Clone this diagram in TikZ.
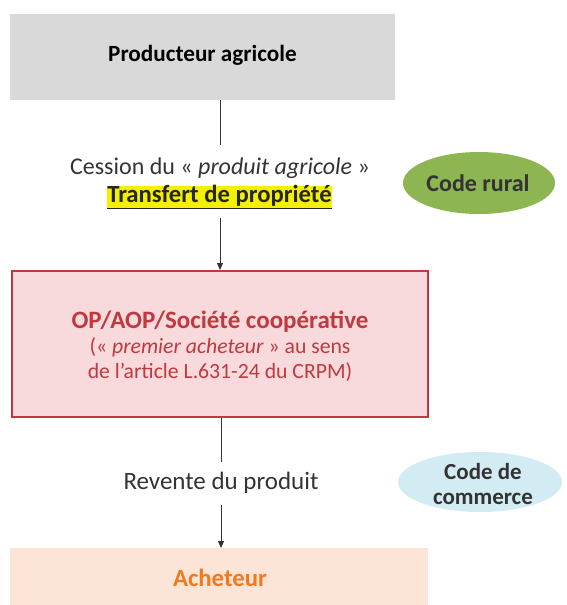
\documentclass[tikz,border=0pt]{standalone}
\usepackage{fontspec}
\setmainfont{Carlito}
\usetikzlibrary{arrows.meta}
\definecolor{greybox}{HTML}{D9D9D9}
\definecolor{pinkfill}{HTML}{F8DADC}
\definecolor{redline}{HTML}{C0393F}
\definecolor{redtext}{HTML}{C0393F}
\definecolor{peach}{HTML}{FCE4D6}
\definecolor{orangetext}{HTML}{F07A22}
\definecolor{greenell}{HTML}{8DB552}
\definecolor{blueell}{HTML}{D3EBF3}
\definecolor{hl}{HTML}{F5F000}
\definecolor{txt}{HTML}{333333}
\begin{document}
\begin{tikzpicture}[x=1pt,y=-1pt,
  conn/.style={draw=black!80, line width=0.9pt},
  arr/.style={conn, -{Triangle[length=7pt,width=6pt]}},
  lbl/.style={font=\fontsize{24}{28}\selectfont, text=txt, align=center}]
\useasboundingbox (0,0) rectangle (566,605);
% boxes
\fill[greybox] (10,14) rectangle (395,100);
\node[font=\bfseries\fontsize{23.2}{28}\selectfont] (prod) at (202.5,55) {Producteur agricole};
\coordinate (prodb) at (220,100);
\fill[pinkfill, draw=redline, line width=1.6pt] (12,271) rectangle (428,417);
\node[text=redtext, align=center, font=\fontsize{21.7}{25}\selectfont] (op) at (220,346)
  {{\bfseries\fontsize{25}{25}\selectfont OP/AOP/Société coopérative}\\(« \textit{premier acheteur} » au sens\\de l’article L.631-24 du CRPM)};
\coordinate (opt) at (220,270);
\coordinate (opb) at (221,418);
\fill[peach] (10,548) rectangle (428,605);
\node[text=orangetext, font=\bfseries\fontsize{24.8}{28}\selectfont] (ach) at (220,578) {Acheteur};
\coordinate (acht) at (221,548);
% labels
\fill[hl] (107,186) rectangle (332,209);
\node[lbl] (cess) at (220,168) {Cession du « \textit{produit agricole} »};
\node[lbl, font=\bfseries\fontsize{24.7}{28}\selectfont, text=black!85] (tr) at (219.5,197) {\underline{Transfert de propriété}};
\node[lbl, font=\fontsize{25}{28}\selectfont] (rev) at (221,483) {Revente du produit};
% connectors
\coordinate (c1) at (220,145);
\coordinate (c2) at (220,218);
\coordinate (c3) at (221,462);
\coordinate (c4) at (221,505);
\draw[conn] (prodb) -- (c1);
\draw[arr] (c2) -- (opt);
\draw[conn] (opb) -- (c3);
\draw[arr] (c4) -- (acht);
% ellipses
\fill[greenell] (479,183) ellipse [x radius=76, y radius=31];
\node[text=txt, font=\bfseries\fontsize{24}{28}\selectfont] (cr) at (478,183) {Code rural};
\fill[blueell] (480,482) ellipse [x radius=82, y radius=30];
\node[text=txt, align=center, font=\bfseries\fontsize{23}{25}\selectfont] (cc) at (483,484) {Code de\\commerce};
\end{tikzpicture}
\end{document}
